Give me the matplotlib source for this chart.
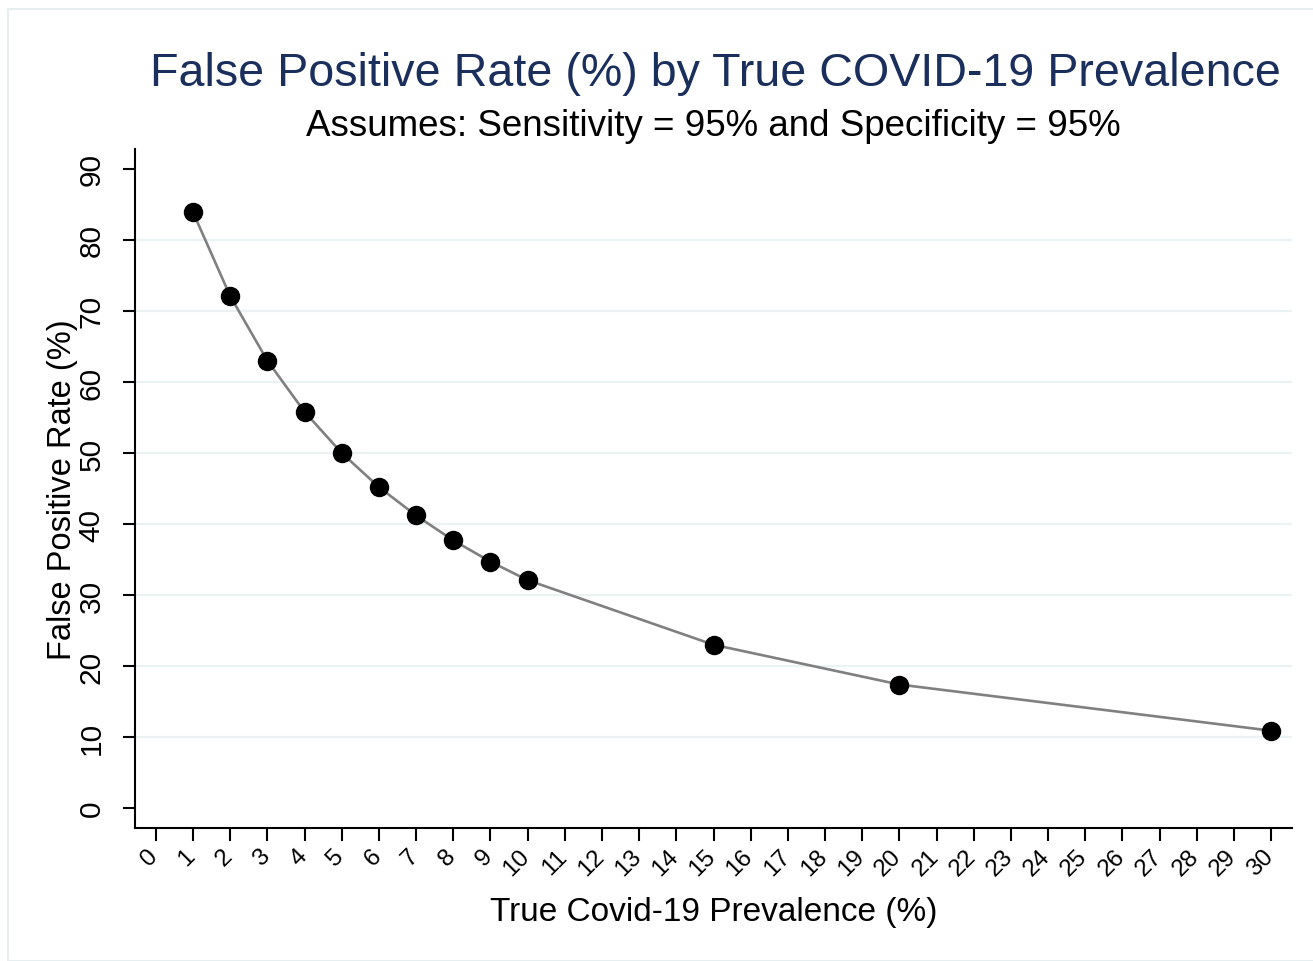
import matplotlib
matplotlib.use("Agg")
import matplotlib.pyplot as plt
from matplotlib.patches import Rectangle
from matplotlib.transforms import ScaledTranslation

plt.rcParams['font.family'] = ['Liberation Sans', 'DejaVu Sans']

prevalence = [1, 2, 3, 4, 5, 6, 7, 8, 9, 10, 15, 20, 30]
false_pos_rate = [83.9, 72.1, 63.0, 55.8, 50.0, 45.2, 41.2, 37.7, 34.7, 32.1, 23.0, 17.4, 10.9]
x_ticks = list(range(0, 31))
y_ticks = list(range(0, 91, 10))

title = "False Positive Rate (%) by True COVID-19 Prevalence"
subtitle = "Assumes: Sensitivity = 95% and Specificity = 95%"
xlabel = "True Covid-19 Prevalence (%)"
ylabel = "False Positive Rate (%)"

W, H = 1313, 962
fig = plt.figure(figsize=(W / 100, H / 100), dpi=100)
ax = fig.add_axes([135 / W, 1 - 829 / H, (1292 - 135) / W, (829 - 150) / H])

# outer light frame
fig.patches.append(Rectangle((8 / W, 0), 1, 1 - 10 / H, transform=fig.transFigure,
                             fill=False, edgecolor='#e6eef0', linewidth=1.5))

for y in y_ticks[1:-1]:
    ax.axhline(y, color='#eaf2f3', linewidth=1.6, zorder=0)

ax.plot(prevalence, false_pos_rate, color='#808080', linewidth=1.9, zorder=2)
ax.plot(prevalence, false_pos_rate, linestyle='none', marker='o', markersize=13,
        color='black', zorder=3)

ax.set_xlim(-0.56, 30.56)
ax.set_ylim(-2.8, 92.8)
ax.set_xticks(x_ticks)
ax.set_xticklabels([str(v) for v in x_ticks], rotation=45, ha='right',
                   rotation_mode='anchor', fontsize=17.5)
ax.set_yticks(y_ticks)
ax.set_yticklabels([str(v) for v in y_ticks], rotation=90, va='center', fontsize=21.5)

for s in ['top', 'right']:
    ax.spines[s].set_visible(False)
for s in ['left', 'bottom']:
    ax.spines[s].set_linewidth(1.5)
ax.tick_params(axis='both', length=9, width=1.5, color='black')
ax.tick_params(axis='y', pad=12)
ax.tick_params(axis='x', pad=3)

shift = ScaledTranslation(-9 / 100, 0, fig.dpi_scale_trans)
for lbl in ax.get_xticklabels():
    lbl.set_transform(lbl.get_transform() + shift)

ax.set_xlabel(xlabel, fontsize=24, labelpad=12)
ax.set_ylabel(ylabel, fontsize=23.5, labelpad=0)

cx = (135 + 1292) / 2 / W
fig.text(cx + 2 / W, 1 - 74 / H, title, ha='center', va='center', fontsize=33.6, color='#1a2f5c')
fig.text(cx, 1 - 127 / H, subtitle, ha='center', va='center', fontsize=26.5, color='black')

fig.savefig('out.png', dpi=100, facecolor='white')
